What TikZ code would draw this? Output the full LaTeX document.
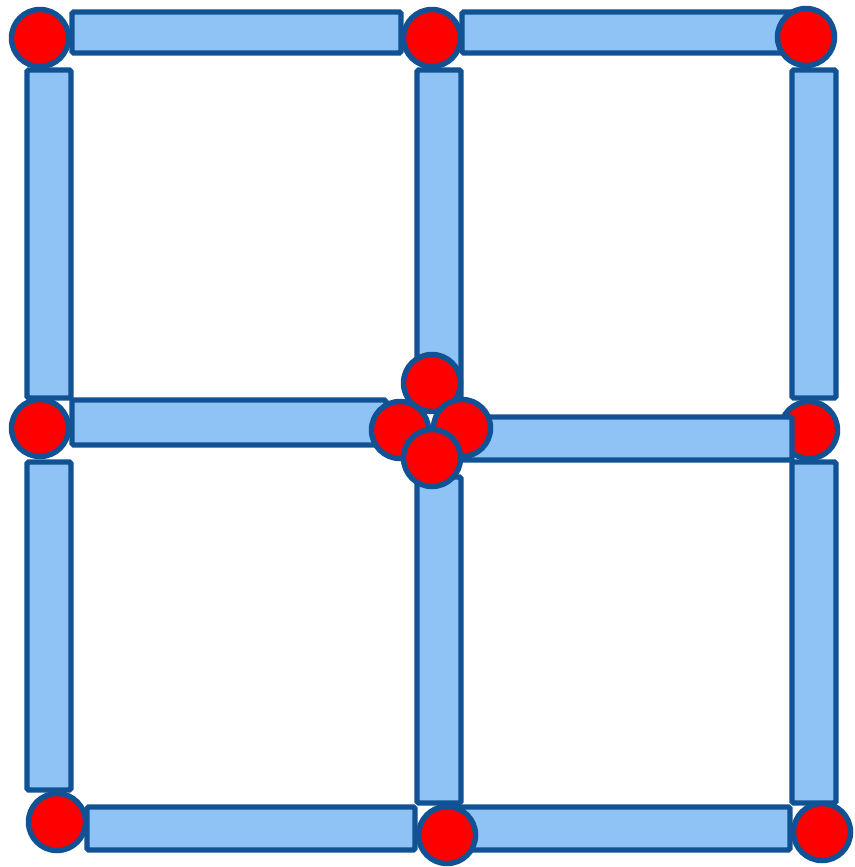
\documentclass[tikz,border=0pt]{standalone}
\definecolor{stickfill}{RGB}{143,194,245}
\definecolor{stickline}{RGB}{16,82,148}
\definecolor{headred}{RGB}{255,0,0}

\begin{document}
\begin{tikzpicture}[x=0.01cm,y=-0.01cm,
    stick/.style={draw=stickline,fill=stickfill,line width=1.55pt,rounded corners=0.5pt},
    head/.style={draw=stickline,fill=headred,line width=1.55pt}]
    \useasboundingbox[fill=white] (0,0) rectangle (854,867);

    % Cerillas horizontales y verticales.
    \foreach \xa/\ya/\xb/\yb in {72/12/401/53, 462/12/794/53,
        27/70/71/398, 417/70/461/398, 792/70/836/398,
        72/400/386/445,
        27/462/71/790, 417/477/461/803, 792/462/836/803,
        87/807/415/850, 440/807/790/850}{
        \draw[stick] (\xa,\ya) rectangle (\xb,\yb);
    }

    % Cabezas de las esquinas y bordes.
    \foreach \cx/\cy in {40/38, 432/38, 806/37, 40/428, 809/430,
        57/822, 447/835, 822/832}{
        \draw[head] (\cx,\cy) circle[radius=0.285cm];
    }

    % Cerilla que tapa la cabeza derecha.
    \draw[stick] (462,417) rectangle (792,460);

    % Grupo de cabezas del centro.
    \foreach \cx/\cy in {432/383, 400/430, 462/428, 432/458}{
        \draw[head] (\cx,\cy) circle[radius=0.285cm];
    }
\end{tikzpicture}
\end{document}
